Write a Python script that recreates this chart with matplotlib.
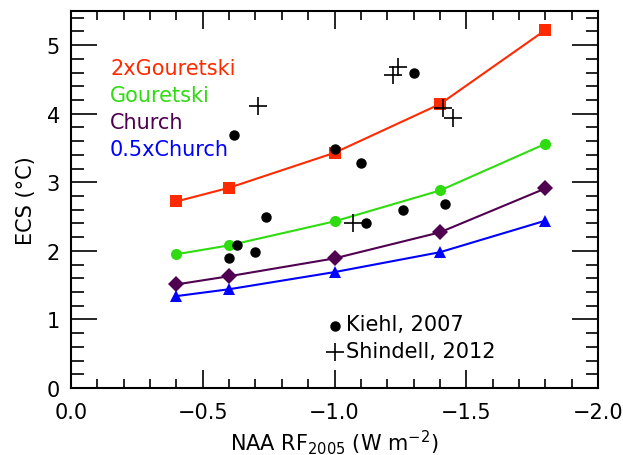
import matplotlib
matplotlib.use('Agg')
import matplotlib.pyplot as plt

# NAA forcing values used for the model curves
RF = [-0.4, -0.6, -1.0, -1.4, -1.8]

ECS_2XGOURETSKI = [2.72, 2.92, 3.43, 4.14, 5.22]
ECS_GOURETSKI = [1.95, 2.08, 2.43, 2.88, 3.56]
ECS_CHURCH = [1.51, 1.63, 1.89, 2.27, 2.91]
ECS_05XCHURCH = [1.34, 1.44, 1.69, 1.98, 2.44]

KIEHL_RF = [-0.62, -0.74, -0.60, -0.63, -0.70, -1.00, -1.10, -1.30, -1.26, -1.42, -1.12]
KIEHL_ECS = [3.69, 2.50, 1.89, 2.09, 1.99, 3.49, 3.28, 4.59, 2.60, 2.69, 2.41]

SHINDELL_RF = [-0.71, -1.22, -1.24, -1.41, -1.45, -1.07]
SHINDELL_ECS = [4.11, 4.57, 4.68, 4.08, 3.94, 2.41]

SERIES = [
    ('2xGouretski', ECS_2XGOURETSKI, '#ff2a00', 's', 9),
    ('Gouretski', ECS_GOURETSKI, '#2edc10', 'o', 8),
    ('Church', ECS_CHURCH, '#500050', 'D', 8),
    ('0.5xChurch', ECS_05XCHURCH, '#0000ff', '^', 9),
]


def main():
    plt.rcParams.update({'font.size': 14, 'font.family': 'DejaVu Sans'})
    fig = plt.figure(figsize=(6.23, 4.56), dpi=100)
    ax = fig.add_axes([0.114, 0.147, 0.846, 0.827])

    for i, (name, ys, color, marker, ms) in enumerate(SERIES):
        ax.plot(RF, ys, color=color, linewidth=1.5, marker=marker, markersize=ms,
                markeredgewidth=0, zorder=3)
        ax.text(-0.148, 4.67 - i * 0.393, name, color=color, fontsize=15,
                va='center', ha='left')

    ax.plot(KIEHL_RF, KIEHL_ECS, 'o', color='black', markersize=6.5, zorder=4)
    ax.plot(SHINDELL_RF, SHINDELL_ECS, '+', color='black', markersize=13,
            markeredgewidth=1.2, zorder=4)

    # bottom right legend
    ax.plot([-1.0], [0.9], 'o', color='black', markersize=6.5)
    ax.plot([-1.0], [0.52], '+', color='black', markersize=13, markeredgewidth=1.2)
    ax.text(-1.045, 0.93, 'Kiehl, 2007', fontsize=15, va='center', ha='left')
    ax.text(-1.045, 0.54, 'Shindell, 2012', fontsize=15, va='center', ha='left')

    ax.set_xlim(0, -2.0)
    ax.set_ylim(0, 5.5)
    ax.set_xticks([0, -0.5, -1.0, -1.5, -2.0])
    ax.set_xticklabels(['0.0', '\u22120.5', '\u22121.0', '\u22121.5', '\u22122.0'])
    ax.set_xticks([-0.1 * k for k in range(21)], minor=True)
    ax.set_yticks([0, 1, 2, 3, 4, 5])
    ax.set_yticks([0.2 * k for k in range(28)], minor=True)

    ax.tick_params(axis='x', which='major', direction='in', length=13, width=1.2,
                   top=True, pad=10, labelsize=15)
    ax.tick_params(axis='x', which='minor', direction='in', length=6.5, width=1.2, top=True)
    ax.tick_params(axis='y', which='major', direction='in', length=19, width=1.2,
                   right=True, pad=8, labelsize=15)
    ax.tick_params(axis='y', which='minor', direction='in', length=9, width=1.2, right=True)
    for sp in ax.spines.values():
        sp.set_linewidth(1.5)

    ax.set_xlabel('NAA RF$_{2005}$ (W m$^{-2}$)', fontsize=15, labelpad=4)
    ax.set_ylabel('ECS (\u00b0C)', fontsize=15, labelpad=8)

    fig.savefig('out.png', dpi=100)
    plt.close()


if __name__ == '__main__':
    main()
